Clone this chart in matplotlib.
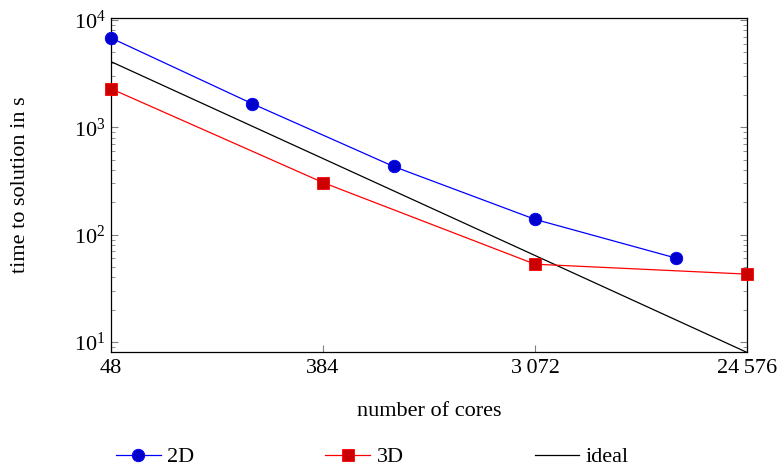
import matplotlib
matplotlib.use("Agg")
import matplotlib.pyplot as plt
from matplotlib.ticker import LogLocator, FixedLocator, NullLocator, NullFormatter

plt.rcParams['font.family'] = ['Liberation Serif', 'DejaVu Serif']
plt.rcParams['mathtext.fontset'] = 'stix'

cores_2d = [48, 192, 768, 3072, 12288]
time_2d = [6810, 1660, 432, 139, 60.4]
cores_3d = [48, 384, 3072, 24576]
time_3d = [2290, 306, 53.1, 42.9]
cores_ideal = [48, 24576]
time_ideal = [4096, 8]
xticks = [48, 384, 3072, 24576]
xticklabels = ['48', '384', '3\u2009072', '24\u2009576']

FS = 16

fig = plt.figure(figsize=(7.78, 4.68), dpi=100)
ax = fig.add_axes([111/778, 1-352/468, (747-111)/778, (352-18)/468])

l2, = ax.plot(cores_2d, time_2d, color='#0000ff', lw=0.9, marker='o', ms=9,
              mfc='#0000cc', mec='#0000ff', mew=0.6, label='2D', clip_on=False, zorder=3)
l3, = ax.plot(cores_3d, time_3d, color='#ff0000', lw=0.9, marker='s', ms=8.5,
              mfc='#cc0000', mec='#ff0000', mew=0.6, label='3D', clip_on=False, zorder=3)
li, = ax.plot(cores_ideal, time_ideal, color='black', lw=0.9, label='ideal', zorder=2)

ax.set_xscale('log', base=2)
ax.set_yscale('log')
ax.set_xlim(48, 24576)
ax.set_ylim(8.07, 10**4.019)

ax.xaxis.set_major_locator(FixedLocator(xticks))
ax.set_xticklabels(xticklabels)
ax.xaxis.set_minor_locator(NullLocator())
ax.yaxis.set_major_locator(LogLocator(base=10, numticks=10))
ax.yaxis.set_minor_locator(LogLocator(base=10, subs=range(2, 10), numticks=20))
ax.yaxis.set_minor_formatter(NullFormatter())

ax.tick_params(axis='both', which='both', direction='in', labelsize=FS, color='#808080')
ax.tick_params(axis='y', which='both', left=True, right=True, pad=4)
ax.tick_params(axis='x', which='both', top=False, bottom=True, pad=5)
ax.tick_params(which='major', length=5, width=0.8)
ax.tick_params(which='minor', length=3, width=0.6)

for s in ax.spines.values():
    s.set_linewidth(0.9)

ax.set_xlabel('number of cores', fontsize=FS, labelpad=17)
ax.set_ylabel('time to solution in s', fontsize=FS, labelpad=31)

fig.legend(handles=[l2, l3, li], loc='center', bbox_to_anchor=(372.5/778, 1-457/468),
           ncol=3, frameon=False, fontsize=FS, handlelength=2.0,
           columnspacing=5.9, handletextpad=0.3, borderpad=0, borderaxespad=0)

fig.savefig('out.png', dpi=100)
